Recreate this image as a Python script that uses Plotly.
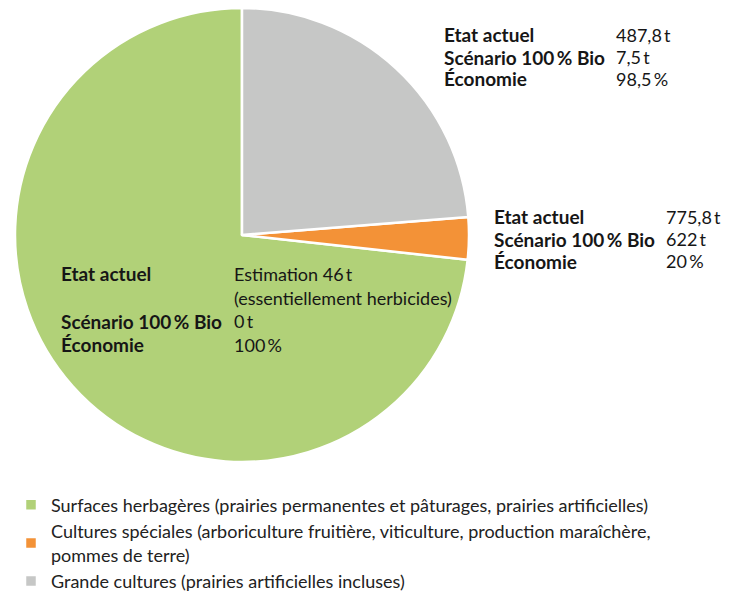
import plotly.graph_objects as go

# Data
categories = [
    "Surfaces herbagères (prairies permanentes et pâturages, prairies artificielles)",
    "Cultures spéciales (arboriculture fruitière, viticulture, production maraîchère,<br>pommes de terre)",
    "Grande cultures (prairies artificielles incluses)",
]
shares = [73.26, 3.01, 23.73]
colors = ["#b1d178", "#f39237", "#c6c7c6"]

row_labels = ["Etat actuel", "Scénario 100\u2009% Bio", "Économie"]
gray_values = ["487,8\u2009t", "7,5\u2009t", "98,5\u2009%"]
orange_values = ["775,8\u2009t", "622\u2009t", "20\u2009%"]
green_values = ["Estimation 46\u2009t<br>(essentiellement herbicides)", "0\u2009t", "100\u2009%"]

# The page body has an 8px margin, so the figure is drawn 8px smaller and offset
OFF = 8
W, H = 737 - OFF, 600 - OFF
FONT = "Lato, Open Sans, sans-serif"
TXT = "#161616"

# counterclockwise: first slice (green) is placed clockwise from the rotation angle,
# the others follow counterclockwise -> grey then orange clockwise from 12 o'clock
rotation = (shares[1] + shares[2]) / sum(shares) * 360

fig = go.Figure()
fig.add_trace(go.Pie(
    labels=categories,
    values=shares,
    sort=False,
    direction="counterclockwise",
    rotation=rotation,
    marker=dict(colors=colors, line=dict(color="white", width=2.5)),
    textinfo="none",
    hoverinfo="label+percent",
    domain=dict(x=[(11 - OFF) / W, (473 - OFF) / W], y=[1 - (469 - OFF) / H, 1]),
))

annotations = []


def px(x, y):
    return (x - OFF) / W, 1 - (y - OFF) / H


def add_text(x, y, text, bold=False):
    xx, yy = px(x, y)
    annotations.append(dict(
        x=xx, y=yy, xref="paper", yref="paper",
        text=("<b>" + text + "</b>") if bold else text,
        showarrow=False, xanchor="left", yanchor="middle", align="left",
        font=dict(family=FONT, size=19 if bold else 18, color=TXT)))


def block(lx, vx, ys, values):
    i = 0
    for lab, val in zip(row_labels, values):
        lines = val.split("<br>")
        add_text(lx, ys[i], lab, bold=True)
        for ln in lines:
            add_text(vx, ys[i], ln)
            i += 1


block(442, 614, [35, 58, 80], gray_values)
block(492, 664, [220, 243, 265], orange_values)
block(59, 232, [278, 302, 326, 350], green_values)

fig.update_layout(
    width=W, height=H,
    margin=dict(l=0, r=0, t=0, b=0),
    paper_bgcolor="white",
    plot_bgcolor="white",
    annotations=annotations,
    showlegend=True,
    legend=dict(x=3 / W, xanchor="left", y=1 - 486 / H, yanchor="top",
                font=dict(family=FONT, size=18, color="#222222"),
                traceorder="normal", bgcolor="rgba(0,0,0,0)"),
)

fig.write_html("out.html")
